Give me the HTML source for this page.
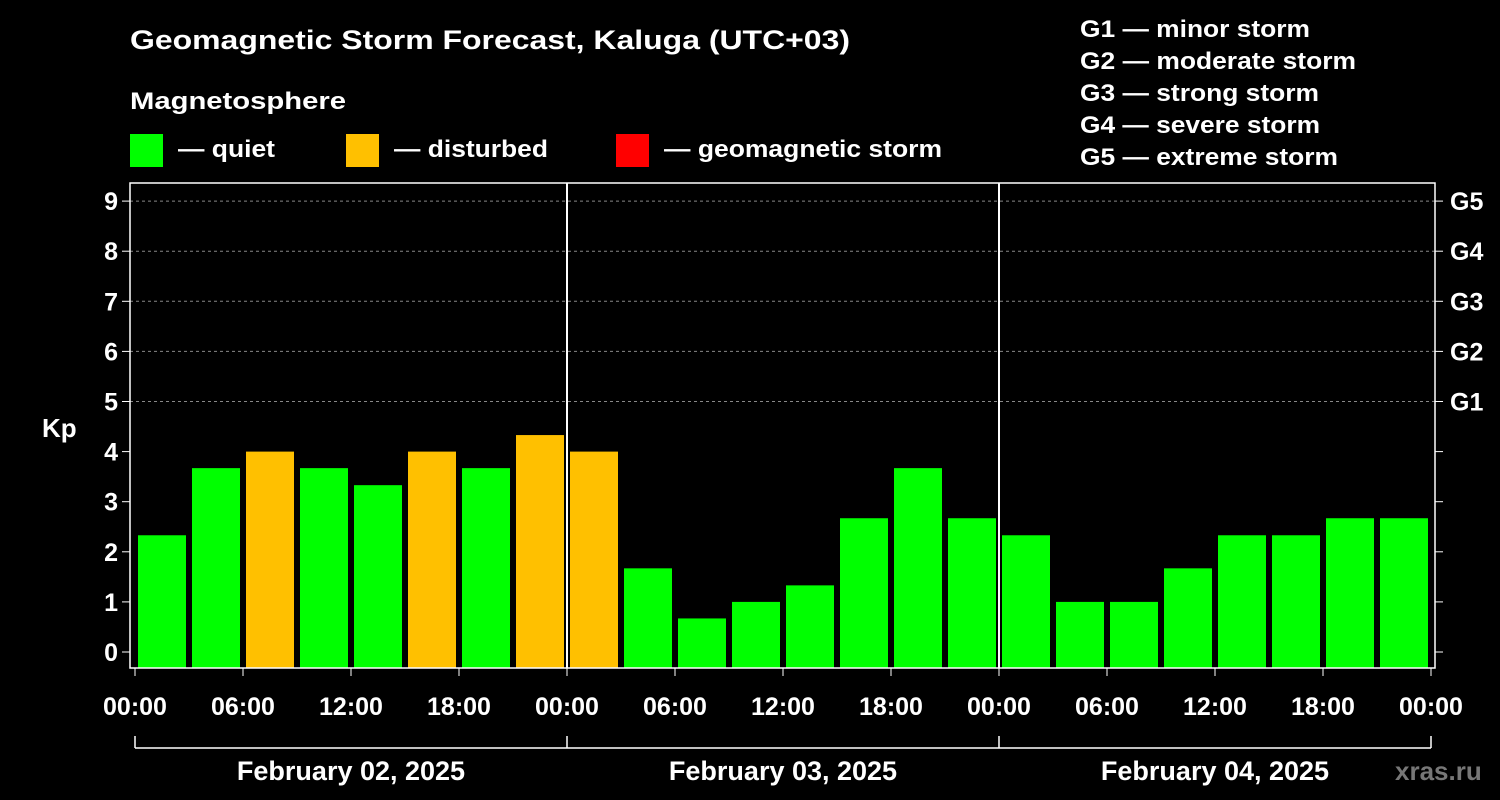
<!DOCTYPE html>
<html><head><meta charset="utf-8"><style>
html,body{margin:0;padding:0;background:#000;}
svg{display:block;font-family:"Liberation Sans",sans-serif;font-weight:bold;}
</style></head><body>
<svg id="chart" width="1500" height="800">
<rect width="1500" height="800" fill="#000"/>
<text x="130" y="49" fill="#fff" font-size="27" textLength="720" lengthAdjust="spacingAndGlyphs">Geomagnetic Storm Forecast, Kaluga (UTC+03)</text>
<text x="130" y="109" fill="#fff" font-size="24" textLength="216" lengthAdjust="spacingAndGlyphs">Magnetosphere</text>
<g><rect x="130" y="134" width="33" height="33" fill="#00ff00"/><text x="178" y="157" fill="#fff" font-size="24" textLength="97" lengthAdjust="spacingAndGlyphs">— quiet</text></g>
<g><rect x="346" y="134" width="33" height="33" fill="#ffc000"/><text x="394" y="157" fill="#fff" font-size="24" textLength="154" lengthAdjust="spacingAndGlyphs">— disturbed</text></g>
<g><rect x="616" y="134" width="33" height="33" fill="#ff0000"/><text x="664" y="157" fill="#fff" font-size="24" textLength="278" lengthAdjust="spacingAndGlyphs">— geomagnetic storm</text></g>
<g fill="#fff" font-size="24">
<text x="1080" y="37" textLength="230" lengthAdjust="spacingAndGlyphs">G1 — minor storm</text>
<text x="1080" y="69" textLength="276" lengthAdjust="spacingAndGlyphs">G2 — moderate storm</text>
<text x="1080" y="101" textLength="239" lengthAdjust="spacingAndGlyphs">G3 — strong storm</text>
<text x="1080" y="133" textLength="240" lengthAdjust="spacingAndGlyphs">G4 — severe storm</text>
<text x="1080" y="165" textLength="258" lengthAdjust="spacingAndGlyphs">G5 — extreme storm</text>
</g>
<text x="42" y="437" fill="#fff" font-size="26">Kp</text>
<text x="1395" y="780" fill="#777" font-size="26">xras.ru</text>
<g id="grid"></g><g id="bars"></g><g id="axes"></g>
</svg>
<script>
const values = [2.33,3.67,4,3.67,3.33,4,3.67,4.33, 4,1.67,0.67,1,1.33,2.67,3.67,2.67, 2.33,1,1,1.67,2.33,2.33,2.67,2.67];
const yTicks = [0,1,2,3,4,5,6,7,8,9];
const gLabels = ["G1","G2","G3","G4","G5"];
const xTickLabels = ["00:00","06:00","12:00","18:00","00:00","06:00","12:00","18:00","00:00","06:00","12:00","18:00","00:00"];
const dayLabels = ["February 02, 2025","February 03, 2025","February 04, 2025"];
const NS="http://www.w3.org/2000/svg";
const x0=135, hourPx=18, yZero=652, unitPx=50.1;
const xs=h=>x0+h*hourPx;
const ys=v=>yZero-v*unitPx;
function mk(tag,attrs,parent,text){const e=document.createElementNS(NS,tag);for(const k in attrs)e.setAttribute(k,attrs[k]);if(text!==undefined)e.textContent=text;parent.appendChild(e);return e;}
const gridG=document.getElementById('grid'),barsG=document.getElementById('bars'),axesG=document.getElementById('axes');
const plotBottom=668, plotTop=183, plotLeft=130, plotRight=1435;
yTicks.forEach(v=>{
  if(v>=5){const l=mk('line',{x1:plotLeft,x2:plotRight,y1:ys(v),y2:ys(v),stroke:'#888','stroke-dasharray':'3,3'},gridG);
  
  }
  mk('line',{x1:plotLeft-8,x2:plotLeft,y1:ys(v),y2:ys(v),stroke:'#fff','stroke-width':1},axesG);
  mk('line',{x1:plotRight,x2:plotRight+8,y1:ys(v),y2:ys(v),stroke:'#fff','stroke-width':1},axesG);
  const t=mk('text',{x:plotLeft-12,y:ys(v)+9,fill:'#fff','font-size':25,'text-anchor':'end'},axesG,String(v));
  
  
});
gLabels.forEach((g,i)=>{
  const t=mk('text',{x:1450,y:ys(5+i)+9,fill:'#fff','font-size':25},axesG,g);
  
  
});
values.forEach((v,i)=>{
  const r=mk('rect',{x:xs(i*3)+3,y:ys(v),width:48,height:plotBottom-ys(v),fill:v>=4?'#ffc000':'#00ff00'},barsG);
  
  
});
mk('rect',{x:plotLeft,y:plotTop,width:plotRight-plotLeft,height:plotBottom-plotTop,fill:'none',stroke:'#fff','stroke-width':1.5},axesG);
[24,48].forEach(h=>mk('line',{x1:xs(h),x2:xs(h),y1:plotTop,y2:plotBottom,stroke:'#fff','stroke-width':2},axesG));
xTickLabels.forEach((lab,i)=>{
  mk('line',{x1:xs(i*6),x2:xs(i*6),y1:plotBottom,y2:plotBottom+8,stroke:'#fff'},axesG);
  const t=mk('text',{x:xs(i*6),y:715,fill:'#fff','font-size':25,'text-anchor':'middle'},axesG,lab);
  
  
});
mk('line',{x1:xs(0),x2:xs(72),y1:748,y2:748,stroke:'#fff','stroke-width':1.5},axesG);
[0,24,48,72].forEach(h=>mk('line',{x1:xs(h),x2:xs(h),y1:736,y2:748,stroke:'#fff','stroke-width':1.5},axesG));
dayLabels.forEach((d,i)=>{
  const t=mk('text',{x:xs(i*24+12),y:780,fill:'#fff','font-size':27,'text-anchor':'middle'},axesG,d);
  
  
});
</script>
</body></html>
